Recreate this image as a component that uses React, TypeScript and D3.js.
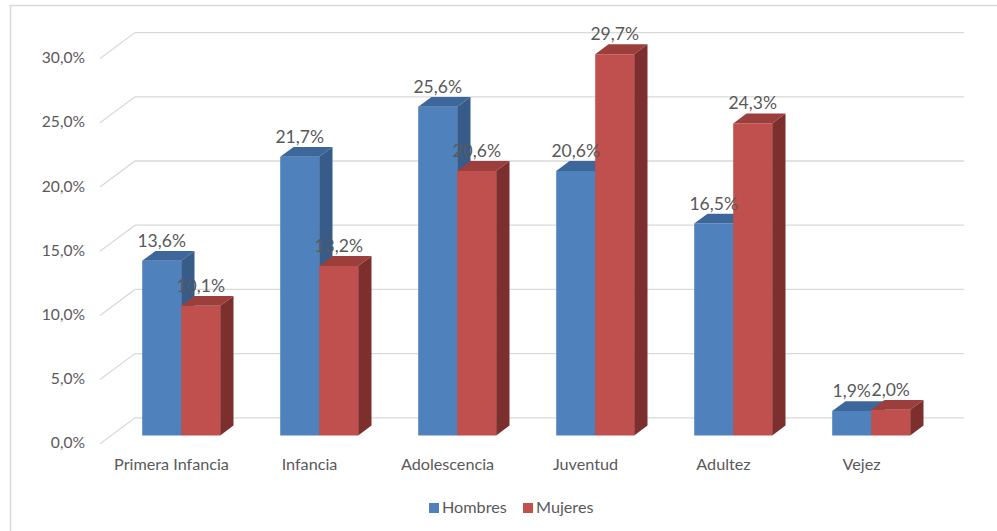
import React from "react";
import * as d3 from "d3";

// Data
const categories = ["Primera Infancia", "Infancia", "Adolescencia", "Juventud", "Adultez", "Vejez"];
const seriesNames = ["Hombres", "Mujeres"];
const hombres = [13.6, 21.7, 25.6, 20.6, 16.5, 1.9];
const mujeres = [10.1, 13.2, 20.6, 29.7, 24.3, 2.0];
const yTicks = [0, 5, 10, 15, 20, 25, 30];

// Styling
const W = 997;
const H = 531;
const FONT = "Lato, 'Open Sans', sans-serif";
const TEXT = "#595959";
const GRID = "#D9D9D9";
const palettes = [
  { front: "#4F81BD", top: "#3D679A", side: "#375C89" },
  { front: "#C0504D", top: "#9C3F3C", side: "#7C2F2D" },
];

// Oblique projection: depth vector for the full floor depth
const DEPTH_X = 35;
const DEPTH_Y = -26;
const BAR_Z0 = 0.32;
const BAR_Z1 = 0.7;
const BAR_W = 39;

const fmt = (v: number) => d3.format(".1f")(v).replace(".", ",") + "%";

export default function App() {
  const y = d3.scaleLinear().domain([0, 30]).range([443.8, 443.8 - 30 * 12.84]);
  const x = d3.scaleBand<string>().domain(categories).range([101, 929]);
  const series = [hombres, mujeres];

  const P = (xf: number, v: number, z: number): [number, number] => [xf + z * DEPTH_X, y(v) + z * DEPTH_Y];
  const poly = (pts: [number, number][]) => pts.map((p) => p.join(",")).join(" ");

  const left = x.range()[0];
  const right = x.range()[1];

  return (
    <svg width={W} height={H} style={{ position: "absolute", left: 0, top: 0, fontFamily: FONT }}>
      <rect x={0} y={0} width={W} height={H} fill="#fff" />
      <rect x={10.5} y={5.5} width={W} height={H} fill="none" stroke={GRID} strokeWidth={1.5} />

      {/* gridlines: side wall + back wall */}
      {yTicks.map((t) => {
        const a = P(left - 1, t, 0);
        const b = P(left - 1, t, 1);
        const c = P(right, t, 1);
        return (
          <g key={t}>
            <polyline points={poly([a, b, c])} fill="none" stroke={GRID} strokeWidth={1.3} />
            <text x={85} y={a[1] + 4.5} textAnchor="end" fontSize={15.6} fill={TEXT}>
              {fmt(t)}
            </text>
          </g>
        );
      })}

      {/* bars */}
      {categories.map((cat, i) => {
        const c = (x(cat) as number) + x.bandwidth() / 2;
        return (
          <g key={cat}>
            {series.map((vals, s) => {
              const v = vals[i];
              const xl = c - BAR_W + s * BAR_W;
              const xr = xl + BAR_W;
              const pal = palettes[s];
              return (
                <g key={s}>
                  <polygon points={poly([P(xl, 0, BAR_Z0), P(xr, 0, BAR_Z0), P(xr, v, BAR_Z0), P(xl, v, BAR_Z0)])} fill={pal.front} />
                  <polygon points={poly([P(xl, v, BAR_Z0), P(xr, v, BAR_Z0), P(xr, v, BAR_Z1), P(xl, v, BAR_Z1)])} fill={pal.top} />
                  <polygon points={poly([P(xr, 0, BAR_Z0), P(xr, 0, BAR_Z1), P(xr, v, BAR_Z1), P(xr, v, BAR_Z0)])} fill={pal.side} />
                </g>
              );
            })}
          </g>
        );
      })}

      {/* data labels */}
      {categories.map((cat, i) => {
        const c = (x(cat) as number) + x.bandwidth() / 2;
        return series.map((vals, s) => {
          const v = vals[i];
          const xl = c - BAR_W + s * BAR_W;
          const [px, py] = P(xl + BAR_W / 2, v, BAR_Z0);
          return (
            <text key={cat + s} x={px} y={py - 14} textAnchor="middle" fontSize={17.5} fill={TEXT}>
              {fmt(v)}
            </text>
          );
        });
      })}

      {/* category labels */}
      {categories.map((cat) => (
        <text key={cat} x={(x(cat) as number) + x.bandwidth() / 2 + 1.5} y={469.5} textAnchor="middle" fontSize={16.2} fill={TEXT}>
          {cat}
        </text>
      ))}

      {/* legend */}
      {seriesNames.map((name, s) => {
        const lx = [429, 523][s];
        return (
          <g key={name}>
            <rect x={lx} y={503} width={10} height={10} fill={palettes[s].front} />
            <text x={lx + 13} y={513} fontSize={16.2} fill={TEXT}>
              {name}
            </text>
          </g>
        );
      })}
    </svg>
  );
}
